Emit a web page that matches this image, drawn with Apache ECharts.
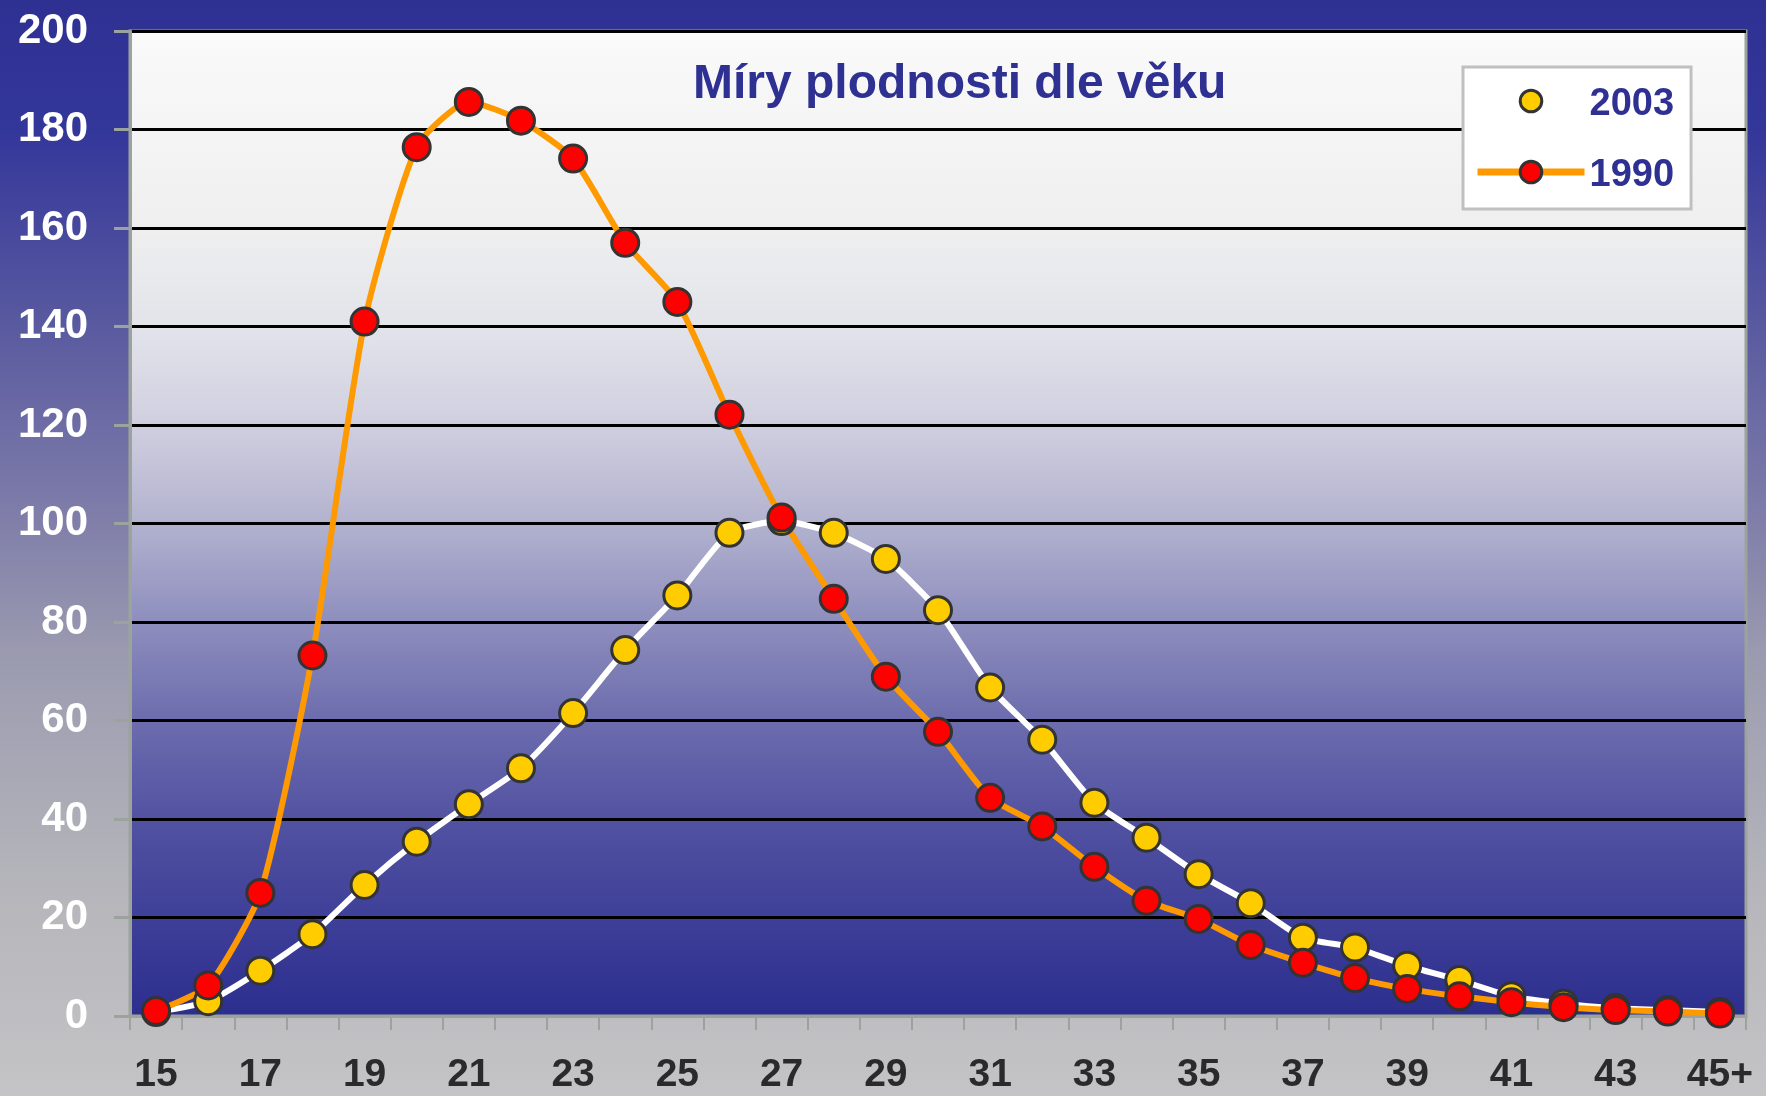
<!DOCTYPE html>
<html>
<head>
<meta charset="utf-8">
<script src="https://cdn.jsdelivr.net/npm/echarts@6/dist/echarts.min.js"></script>
<style>
html,body{margin:0;padding:0;}
#main{width:1766px;height:1096px;}
</style>
</head>
<body>
<div id="main"></div>
<script>
// věk matky
var ages = ['15','16','17','18','19','20','21','22','23','24','25','26','27','28','29','30',
            '31','32','33','34','35','36','37','38','39','40','41','42','43','44','45+'];
// míry plodnosti na 1000 žen
var rates2003 = [0.8, 3.0, 9.2, 16.6, 26.6, 35.4, 43.0, 50.3, 61.5, 74.3, 85.4, 98.1, 100.5, 98.1, 92.8, 82.4,
                 66.7, 56.1, 43.3, 36.2, 28.8, 22.9, 15.9, 13.9, 10.2, 7.3, 4.0, 2.5, 1.6, 1.2, 0.8];
var rates1990 = [1.0, 6.2, 25.0, 73.2, 141.0, 176.4, 185.6, 181.8, 174.1, 157.0, 145.0, 122.1, 101.2, 84.7, 68.9, 57.7,
                 44.3, 38.5, 30.3, 23.4, 19.7, 14.4, 10.8, 7.7, 5.5, 4.0, 2.8, 1.8, 1.2, 0.9, 0.5];
var yTicks = [0, 200, 20]; // min, max, krok

var navy = '#2e3192';
var gray = '#9ca39c';
var font = 'Liberation Sans, Arial, sans-serif';

var myChart = echarts.init(document.getElementById('main'));
var option = {
    animation: false,
    backgroundColor: {
        type: 'linear', x: 0, y: 0, x2: 0, y2: 1,
        colorStops: [
            {offset: 0, color: '#2e3192'},
            {offset: 0.12, color: '#34379a'},
            {offset: 0.3, color: '#5a5aa0'},
            {offset: 0.45, color: '#7b79a8'},
            {offset: 0.6, color: '#9b9bb0'},
            {offset: 0.8, color: '#b4b4ba'},
            {offset: 1, color: '#c4c4c6'}
        ]
    },
    title: {
        text: 'Míry plodnosti dle věku',
        left: 693,
        top: 61,
        padding: 0,
        textStyle: {color: navy, fontSize: 48, fontWeight: 'bold', fontFamily: font}
    },
    legend: {
        orient: 'vertical',
        left: 1463,
        top: 67,
        padding: [19, 17, 14, 11],
        itemGap: 33,
        itemWidth: 107,
        itemHeight: 27,
        backgroundColor: '#ffffff',
        borderColor: '#c0c0c0',
        borderWidth: 3,
        borderRadius: 0,
        formatter: '{t|{name}}',
        textStyle: {
            color: navy, fontSize: 38, fontWeight: 'bold', fontFamily: font,
            rich: {t: {color: navy, fontSize: 38, fontWeight: 'bold', fontFamily: font, padding: [8, 0, 0, 0]}}
        },
        itemStyle: {borderColor: '#333333', borderWidth: 3},
        lineStyle: {width: 7},
        data: ['2003', '1990']
    },
    grid: {
        left: 130, right: 20, top: 31, bottom: 80,
        show: true,
        borderColor: gray,
        borderWidth: 3,
        backgroundColor: {
            type: 'linear', x: 0, y: 0, x2: 0, y2: 1,
            colorStops: [
                {offset: 0, color: '#fafafa'},
                {offset: 0.2, color: '#efefef'},
                {offset: 0.3, color: '#e2e4ea'},
                {offset: 0.4, color: '#d0cfe0'},
                {offset: 0.5, color: '#b2b2cf'},
                {offset: 0.6, color: '#8e8ebe'},
                {offset: 0.7, color: '#6c6cae'},
                {offset: 0.8, color: '#5252a2'},
                {offset: 0.9, color: '#3e3f98'},
                {offset: 1, color: '#2c2e8e'}
            ]
        }
    },
    xAxis: {
        type: 'category',
        data: ages,
        boundaryGap: true,
        axisLine: {lineStyle: {color: gray, width: 3}},
        axisTick: {show: true, interval: 0, length: 14, lineStyle: {color: gray, width: 2}},
        axisLabel: {interval: 1, margin: 40, color: '#2a2a2a', fontSize: 39, fontWeight: 'bold', fontFamily: font},
        splitLine: {show: false}
    },
    yAxis: {
        type: 'value',
        min: yTicks[0],
        max: yTicks[1],
        interval: yTicks[2],
        axisLine: {show: true, lineStyle: {color: gray, width: 3}},
        axisTick: {show: true, length: 16, lineStyle: {color: gray, width: 3}},
        axisLabel: {margin: 42, color: '#ffffff', fontSize: 42, fontWeight: 'bold', fontFamily: font},
        splitLine: {show: true, lineStyle: {color: '#000000', width: 3}}
    },
    series: [
        {
            name: '2003',
            type: 'line',
            data: rates2003,
            smooth: 0.2,
            symbol: 'circle',
            symbolSize: 27,
            lineStyle: {color: '#ffffff', width: 6},
            itemStyle: {color: '#ffcc00', borderColor: '#333333', borderWidth: 3}
        },
        {
            name: '1990',
            type: 'line',
            data: rates1990,
            smooth: 0.2,
            symbol: 'circle',
            symbolSize: 27,
            lineStyle: {color: '#ff9900', width: 6},
            itemStyle: {color: '#ff0000', borderColor: '#333333', borderWidth: 3}
        }
    ]
};
myChart.setOption(option);
</script>
</body>
</html>
